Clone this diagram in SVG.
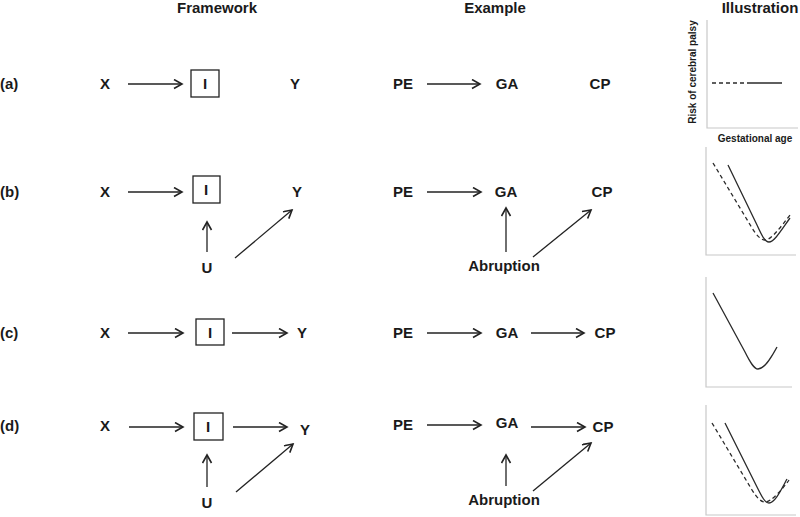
<svg xmlns="http://www.w3.org/2000/svg" width="800" height="517" viewBox="0 0 800 517">
<style>
text{font-family:"Liberation Sans",Arial,sans-serif;font-weight:bold;fill:#1a1a1a}
.t{font-size:15px}
.n{font-size:15px;text-anchor:middle}
.s{font-size:10px;text-anchor:middle}
.e{stroke:#222;stroke-width:1.3;fill:none;marker-end:url(#ah)}
.box{stroke:#222;stroke-width:1.3;fill:none}
.ax{stroke:#c8c8c8;stroke-width:1.2;fill:none}
.c{stroke:#2a2a2a;stroke-width:1.3;fill:none}
.d{stroke:#2a2a2a;stroke-width:1.3;fill:none;stroke-dasharray:4 3}
</style>
<defs>
<marker id="ah" markerUnits="userSpaceOnUse" markerWidth="12" markerHeight="12" refX="9" refY="5" orient="auto">
<path d="M1,0.5 L9,5 L1,9.5" fill="none" stroke="#222" stroke-width="1.6"/>
</marker>
</defs>
<rect width="800" height="517" fill="#fff"/>
<g id="titles">
<text class="n" x="217" y="13">Framework</text>
<text class="n" x="495" y="13">Example</text>
<text class="n" x="760" y="13">Illustration</text>
</g>
<g id="rowlabels">
<text class="t" x="0" y="89">(a)</text>
<text class="t" x="0" y="197">(b)</text>
<text class="t" x="0" y="338">(c)</text>
<text class="t" x="0" y="431">(d)</text>
</g>
<!-- Row a -->
<g id="a-X"><text class="n" x="105" y="89">X</text></g>
<g id="a-I"><rect class="box" x="191" y="70" width="28" height="27"/><text class="n" x="205" y="89">I</text></g>
<g id="a-Y"><text class="n" x="295" y="89">Y</text></g>
<g id="a-PE"><text class="n" x="403" y="89">PE</text></g>
<g id="a-GA"><text class="n" x="507" y="89">GA</text></g>
<g id="a-CP"><text class="n" x="600" y="89">CP</text></g>
<!-- Row b -->
<g id="b-X"><text class="n" x="105" y="197">X</text></g>
<g id="b-I"><rect class="box" x="193" y="176" width="27" height="27"/><text class="n" x="206" y="195">I</text></g>
<g id="b-Y"><text class="n" x="297" y="197">Y</text></g>
<g id="b-U"><text class="n" x="207" y="273">U</text></g>
<g id="b-PE"><text class="n" x="403" y="197">PE</text></g>
<g id="b-GA"><text class="n" x="506" y="197">GA</text></g>
<g id="b-CP"><text class="n" x="602" y="197">CP</text></g>
<g id="b-Abruption"><text class="n" x="504" y="271">Abruption</text></g>
<!-- Row c -->
<g id="c-X"><text class="n" x="105" y="338">X</text></g>
<g id="c-I"><rect class="box" x="196" y="319" width="28" height="26"/><text class="n" x="210" y="338">I</text></g>
<g id="c-Y"><text class="n" x="302" y="338">Y</text></g>
<g id="c-PE"><text class="n" x="403" y="338">PE</text></g>
<g id="c-GA"><text class="n" x="507" y="338">GA</text></g>
<g id="c-CP"><text class="n" x="605" y="338">CP</text></g>
<!-- Row d -->
<g id="d-X"><text class="n" x="105" y="431">X</text></g>
<g id="d-I"><rect class="box" x="194" y="413" width="29" height="27"/><text class="n" x="208" y="432">I</text></g>
<g id="d-Y"><text class="n" x="305" y="435">Y</text></g>
<g id="d-U"><text class="n" x="207" y="508">U</text></g>
<g id="d-PE"><text class="n" x="403" y="430">PE</text></g>
<g id="d-GA"><text class="n" x="507" y="428">GA</text></g>
<g id="d-CP"><text class="n" x="603" y="432">CP</text></g>
<g id="d-Abruption"><text class="n" x="504" y="505">Abruption</text></g>
<g id="connectors">
<line class="e" x1="128" y1="84" x2="182" y2="84"/>
<line class="e" x1="427" y1="84" x2="480" y2="84"/>
<line class="e" x1="128" y1="192" x2="182" y2="192"/>
<line class="e" x1="207" y1="252" x2="207" y2="222"/>
<line class="e" x1="235" y1="258" x2="292" y2="210"/>
<line class="e" x1="427" y1="192" x2="481" y2="192"/>
<line class="e" x1="506" y1="252" x2="506" y2="208"/>
<line class="e" x1="533" y1="257" x2="591" y2="210"/>
<line class="e" x1="128" y1="333" x2="183" y2="333"/>
<line class="e" x1="232" y1="333" x2="287" y2="333"/>
<line class="e" x1="427" y1="333" x2="481" y2="333"/>
<line class="e" x1="531" y1="333" x2="584" y2="333"/>
<line class="e" x1="129" y1="427" x2="183" y2="427"/>
<line class="e" x1="233" y1="427" x2="287" y2="427"/>
<line class="e" x1="207" y1="487" x2="207" y2="455"/>
<line class="e" x1="236" y1="492" x2="293" y2="444"/>
<line class="e" x1="427" y1="425" x2="481" y2="425"/>
<line class="e" x1="531" y1="427" x2="585" y2="427"/>
<line class="e" x1="506" y1="486" x2="506" y2="455"/>
<line class="e" x1="533" y1="491" x2="591" y2="443"/>
</g>
<g id="illustration-a">
<path class="ax" d="M707,20 V128 H798"/>
<text class="s" transform="translate(696,72) rotate(-90)">Risk of cerebral palsy</text>
<text class="s" x="755" y="142">Gestational age</text>
<line class="d" x1="712" y1="83" x2="748" y2="83"/>
<line class="c" x1="748" y1="83" x2="782" y2="83"/>
</g>
<g id="illustration-b">
<path class="ax" d="M706,147 V255 H796"/>
<path class="c" d="M728,165 L757,225 C762,236 765,242 769,242 C774,242 780,232 790,218"/>
<path class="d" d="M713,163 L752,228 C757,236 761,240 765,240 C771,240 780,228 790,215"/>
</g>
<g id="illustration-c">
<path class="ax" d="M706,277 V387 H792"/>
<path class="c" d="M713,293 L745,352 C750,362 754,369 758,369 C764,369 770,360 777,347"/>
</g>
<g id="illustration-d">
<path class="ax" d="M706,405 V515 H796"/>
<path class="c" d="M725,423 L757,487 C762,497 765,503 769,503 C775,503 781,490 787,479"/>
<path class="d" d="M712,423 L752,490 C757,498 761,502 765,502 C771,502 782,490 789,480"/>
</g>
</svg>
